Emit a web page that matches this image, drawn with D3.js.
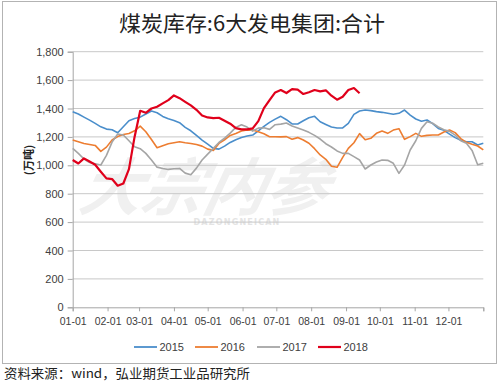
<!DOCTYPE html>
<html><head><meta charset="utf-8">
<script src="https://cdn.jsdelivr.net/npm/d3@7"></script>
<style>body{margin:0;background:#fff}svg{display:block}</style>
</head><body>
<svg id="c" width="500" height="384"></svg>
<script>
// day-of-year sample points (every 5 days)
const days = [0,5,10,15,20,25,30,35,40,45,50,55,60,65,70,75,80,85,90,95,100,105,110,115,120,125,130,135,140,145,150,155,160,165,170,175,180,185,190,195,200,205,210,215,220,225,230,235,240,245,250,255,260,265,270,275,280,285,290,295,300,305,310,315,320,325,330,335,340,345,350,355,360,365];
const s2015 = [1377,1361,1339,1318,1295,1271,1255,1250,1229,1271,1314,1330,1339,1361,1382,1370,1344,1328,1316,1300,1267,1243,1210,1178,1149,1119,1114,1135,1161,1180,1196,1206,1213,1243,1274,1302,1325,1345,1321,1291,1291,1314,1335,1345,1307,1288,1270,1263,1263,1295,1359,1382,1389,1385,1378,1373,1366,1359,1366,1389,1354,1326,1310,1319,1293,1260,1246,1220,1195,1176,1166,1166,1143,1155];
const s2016 = [1178,1166,1154,1147,1140,1098,1128,1178,1203,1217,1224,1243,1276,1236,1182,1124,1138,1152,1159,1166,1159,1154,1147,1135,1114,1105,1154,1180,1210,1224,1241,1248,1248,1236,1222,1201,1201,1200,1202,1183,1195,1178,1155,1117,1073,1042,993,986,1056,1119,1159,1223,1180,1190,1225,1241,1225,1248,1258,1183,1202,1225,1204,1211,1213,1213,1234,1248,1230,1188,1162,1148,1136,1108];
const s2017 = [1119,1084,1044,1020,1011,1002,1070,1163,1220,1213,1173,1131,1117,1084,1037,987,978,971,976,978,945,933,980,1037,1079,1119,1161,1192,1227,1267,1286,1269,1241,1262,1264,1253,1286,1290,1298,1277,1263,1249,1232,1211,1185,1152,1129,1101,1084,1084,1061,1037,974,1002,1023,1037,1035,1014,943,1002,1108,1173,1260,1307,1296,1270,1251,1239,1213,1173,1155,1105,1004,1014];
const s2018 = [1037,1013,1049,1027,1004,955,908,903,856,872,973,1200,1384,1370,1400,1412,1436,1459,1492,1473,1447,1422,1391,1351,1337,1332,1335,1314,1293,1262,1253,1253,1260,1311,1403,1459,1513,1530,1509,1537,1533,1502,1514,1530,1521,1528,1490,1462,1483,1530,1544,1507];
const seriesNames = ["2015","2016","2017","2018"];
const seriesColors = ["#4a8ecb","#ed7d31","#a5a5a5","#e0001b"];
const monthStartDays = [0,31,59,90,120,151,181,212,243,273,304,334,365];
const monthLabels = ["01-01","02-01","03-01","04-01","05-01","06-01","07-01","08-01","09-01","10-01","11-01","12-01",""];
const yTicks = [0,200,400,600,800,1000,1200,1400,1600,1800];

const svg = d3.select("#c");
const L = 72.7, R = 483.3, T = 51.7, B = 307.3;
const x = d3.scaleLinear().domain([0,365]).range([L,R]);
const y = d3.scaleLinear().domain([0,1800]).range([B,T]);

// chart border
svg.append("rect").attr("x",2.5).attr("y",1.5).attr("width",494).attr("height",362)
  .attr("fill","#fff").attr("stroke","#b3b3b3").attr("stroke-width",1);

// title
svg.append("text").attr("x",252).attr("y",31).attr("text-anchor","middle")
  .attr("font-family","'Noto Sans CJK SC',sans-serif").attr("font-size",21).attr("fill","#222")
  .attr("textLength",266).attr("lengthAdjust","spacingAndGlyphs")
  .text("煤炭库存:6大发电集团:合计");

// watermark
const wm = svg.append("g").attr("opacity",1);
wm.append("text").attr("x",205).attr("y",210).attr("text-anchor","middle")
  .attr("font-family","'Noto Sans CJK SC',sans-serif").attr("font-weight","bold").attr("font-style","italic")
  .attr("font-size",62).attr("fill","#f0f0f0").attr("transform","skewX(-12) translate(40,0)").text("大宗内参");
wm.append("text").attr("x",237).attr("y",225).attr("text-anchor","middle")
  .attr("font-family","'DejaVu Sans',sans-serif").attr("font-weight","bold")
  .attr("font-size",8).attr("fill","#e4e4e4").attr("letter-spacing",1.2).text("DAZONGNEICAN");

// gridlines
svg.append("g").selectAll("line").data(yTicks.filter(d=>d>0)).join("line")
  .attr("x1",L).attr("x2",R).attr("y1",d=>y(d)).attr("y2",d=>y(d))
  .attr("stroke","#c8c8c8").attr("stroke-width",1);

// y axis
const yAxis = svg.append("g").attr("transform",`translate(${L},0)`)
  .call(d3.axisLeft(y).tickValues(yTicks).tickFormat(d3.format(",")).tickSize(5).tickPadding(4));
yAxis.select(".domain").attr("stroke","#a6a6a6");
yAxis.selectAll(".tick line").attr("stroke","#a6a6a6");
yAxis.selectAll("text").attr("font-family","'Liberation Sans',Arial,sans-serif").attr("font-size",11).attr("fill","#404040");

// x axis
const xAxis = svg.append("g").attr("transform",`translate(0,${B})`)
  .call(d3.axisBottom(x).tickValues(monthStartDays).tickFormat((d,i)=>monthLabels[i]).tickSize(4).tickPadding(6));
xAxis.select(".domain").attr("stroke","#a6a6a6");
xAxis.selectAll(".tick line").attr("stroke","#a6a6a6");
xAxis.selectAll("text").attr("font-family","'Liberation Sans',Arial,sans-serif").attr("font-size",10.5).attr("fill","#404040");

// y title
svg.append("text").attr("transform","translate(33,160) rotate(-90)").attr("text-anchor","middle")
  .attr("font-family","'Noto Sans CJK SC',serif").attr("font-weight","bold").attr("font-size",11).attr("fill","#222")
  .text("(万吨)");

// lines
const allSeries = [s2015,s2016,s2017,s2018];
const line = d3.line().defined(d=>d[1]!=null).x(d=>x(d[0])).y(d=>y(d[1])).curve(d3.curveLinear);
allSeries.forEach((s,i)=>{
  const pts = s.map((v,j)=>[days[j],v]);
  svg.append("path").datum(pts).attr("d",line).attr("fill","none")
    .attr("stroke",seriesColors[i]).attr("stroke-width",i===3?2.2:1.6).attr("stroke-linejoin","round");
});

// legend
const legX = [134,195,257,318];
const leg = svg.append("g");
seriesNames.forEach((n,i)=>{
  leg.append("line").attr("x1",legX[i]).attr("x2",legX[i]+23).attr("y1",347).attr("y2",347)
    .attr("stroke",seriesColors[i]).attr("stroke-width",i===3?2.2:1.8);
  leg.append("text").attr("x",legX[i]+25.5).attr("y",351).attr("font-family","'Liberation Sans',Arial,sans-serif")
    .attr("font-size",11).attr("fill","#404040").text(n);
});

// source
svg.append("text").attr("x",4).attr("y",378).attr("font-family","'Noto Sans CJK SC',sans-serif")
  .attr("font-size",13).attr("fill","#222").attr("textLength",246).attr("lengthAdjust","spacingAndGlyphs")
  .text("资料来源：wind，弘业期货工业品研究所");
</script>
</body></html>
